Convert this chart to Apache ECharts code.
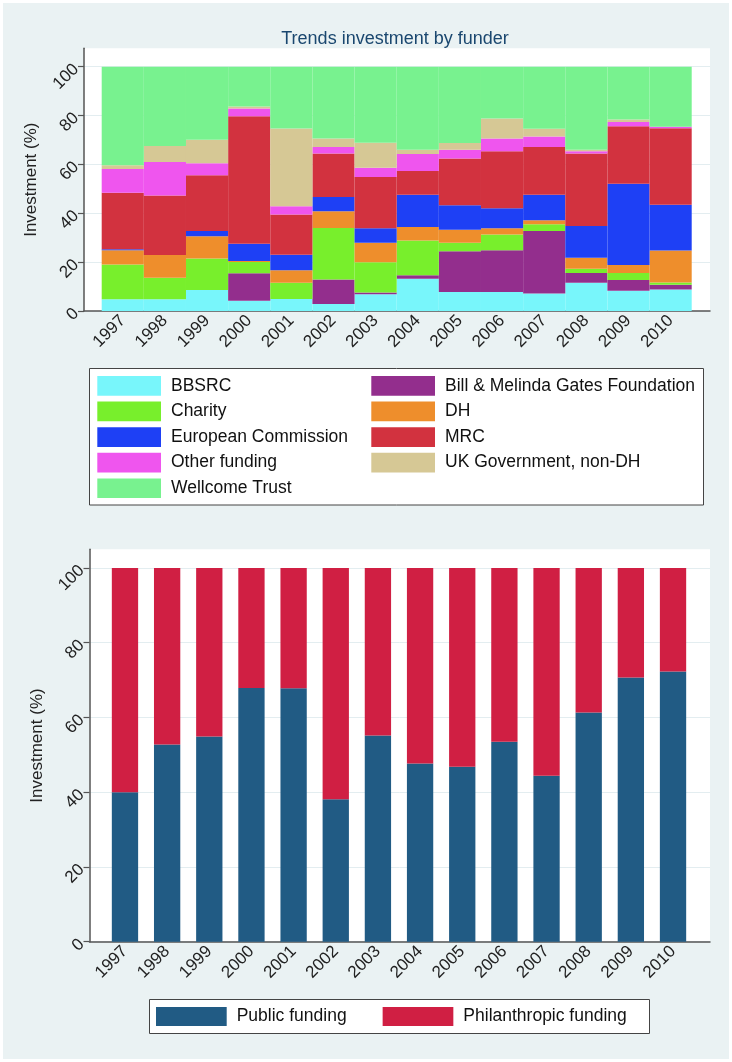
<!DOCTYPE html>
<html>
<head>
<meta charset="utf-8">
<script src="https://cdn.jsdelivr.net/npm/echarts@6/dist/echarts.min.js"></script>
<style>
html,body{margin:0;padding:0;background:#fff;}
#chart{width:732px;height:1062px;}
</style>
</head>
<body>
<div id="chart"></div>
<script>
// ---- data ----
const years = ['1997','1998','1999','2000','2001','2002','2003','2004','2005','2006','2007','2008','2009','2010'];
const yTicks = [0, 20, 40, 60, 80, 100];

const bbsrc    = [4.8, 4.8, 8.6, 4.2, 4.9, 2.9, 6.9, 13.2, 7.8, 7.8, 7.2, 11.6, 8.3, 8.8];
const gates    = [0, 0, 0, 11.2, 0, 10.0, 0.7, 1.4, 16.7, 17.1, 25.5, 4.0, 4.4, 1.9];
const charity  = [14.2, 8.8, 12.9, 4.7, 6.7, 21.1, 12.4, 14.2, 3.4, 6.4, 2.8, 1.7, 2.9, 1.0];
const dh       = [5.9, 9.3, 9.1, 0.4, 5.1, 6.8, 7.9, 5.6, 5.3, 2.6, 1.6, 4.5, 3.2, 13.1];
const ec       = [0.4, 0, 2.1, 7.0, 6.3, 5.9, 6.0, 13.2, 10.1, 8.1, 10.5, 13.0, 33.3, 18.7];
const mrc      = [23.1, 24.4, 22.8, 52.2, 16.5, 17.7, 20.9, 9.7, 19.1, 23.4, 19.5, 29.6, 23.5, 31.3];
const other    = [9.7, 13.7, 5.0, 3.2, 3.4, 2.7, 3.8, 6.9, 3.6, 5.2, 4.3, 1.0, 1.7, 0.6];
const ukgov    = [1.5, 6.5, 9.6, 0.8, 31.8, 3.5, 10.2, 1.8, 2.7, 8.2, 3.2, 0.6, 1.1, 0];
const wellcome = [40.4, 32.5, 29.9, 16.3, 25.3, 29.4, 31.2, 34.0, 31.3, 21.2, 25.4, 34.0, 21.6, 24.6];

const publicFunding        = [40.0, 52.8, 54.9, 67.9, 67.8, 38.1, 55.2, 47.7, 46.8, 53.5, 44.4, 61.3, 70.7, 72.3];
const philanthropicFunding = [60.0, 47.2, 45.1, 32.1, 32.2, 61.9, 44.8, 52.3, 53.2, 46.5, 55.6, 38.7, 29.3, 27.7];

const funders = [
  {name: 'BBSRC', data: bbsrc, color: '#78f6fb'},
  {name: 'Bill & Melinda Gates Foundation', data: gates, color: '#932e8d'},
  {name: 'Charity', data: charity, color: '#78ef2c'},
  {name: 'DH', data: dh, color: '#ee8e2c'},
  {name: 'European Commission', data: ec, color: '#1e40f5'},
  {name: 'MRC', data: mrc, color: '#d2323f'},
  {name: 'Other funding', data: other, color: '#ef55ee'},
  {name: 'UK Government, non-DH', data: ukgov, color: '#d6c895'},
  {name: 'Wellcome Trust', data: wellcome, color: '#78f28f'}
];
const legendCol1 = ['BBSRC', 'Charity', 'European Commission', 'Other funding', 'Wellcome Trust'];
const legendCol2 = ['Bill & Melinda Gates Foundation', 'DH', 'MRC', 'UK Government, non-DH'];

// ---- styles ----
const FONT = '"Liberation Sans", Arial, Helvetica, sans-serif';
const BG = '#eaf2f3';
const AXIS = '#555';
const GRIDLINE = '#e3edf0';
const TXT = '#222';

function bgYAxis(gridIndex, max, gap) {
  return {
    type: 'value', gridIndex: gridIndex, min: 0, max: max, interval: 20,
    name: 'Investment (%)', nameLocation: 'middle', nameGap: gap,
    nameTextStyle: {fontFamily: FONT, fontSize: 17, color: TXT},
    axisLine: {show: true, lineStyle: {color: AXIS, width: 1.5}},
    axisTick: {show: true, length: 6, customValues: yTicks, lineStyle: {color: AXIS, width: 1.2}},
    axisLabel: {customValues: yTicks, rotate: 45, margin: 8, fontFamily: FONT, fontSize: 17, color: TXT},
    splitLine: {show: true, lineStyle: {color: GRIDLINE, width: 1}}
  };
}
function bgXAxis(gridIndex) {
  return {
    type: 'value', gridIndex: gridIndex, min: 0, max: 1,
    axisLine: {show: true, onZero: false, lineStyle: {color: AXIS, width: 1.5}},
    axisTick: {show: false}, axisLabel: {show: false}, splitLine: {show: false}
  };
}
function dataXAxis(gridIndex) {
  return {
    type: 'category', gridIndex: gridIndex, data: years,
    axisLine: {show: false}, axisTick: {show: false},
    axisLabel: {rotate: 45, margin: 7, interval: 0, fontFamily: FONT, fontSize: 17, color: TXT}
  };
}
function dataYAxis(gridIndex, max) {
  return {type: 'value', gridIndex: gridIndex, min: 0, max: max, show: false, splitLine: {show: false}};
}

const series = funders.map(f => ({
  name: f.name, type: 'bar', stack: 'funder', xAxisIndex: 1, yAxisIndex: 1,
  barCategoryGap: '0%', data: f.data, itemStyle: {color: f.color}, silent: true
}));
series.push({
  name: 'Public funding', type: 'bar', stack: 'type', xAxisIndex: 3, yAxisIndex: 3,
  barCategoryGap: '37.6%', data: publicFunding, itemStyle: {color: '#215b84'}, silent: true
});
series.push({
  name: 'Philanthropic funding', type: 'bar', stack: 'type', xAxisIndex: 3, yAxisIndex: 3,
  barCategoryGap: '37.6%', data: philanthropicFunding, itemStyle: {color: '#d01f43'}, silent: true
});

const legendText = {fontFamily: FONT, fontSize: 17.5, color: '#111', padding: [0, 0, 0, 5]};

const option = {
  backgroundColor: '#ffffff',
  animation: false,
  title: {
    text: 'Trends investment by funder', left: 390, top: 25, textAlign: 'center',
    textStyle: {fontFamily: FONT, fontSize: 18, fontWeight: 'normal', color: '#1a476f'}
  },
  graphic: [
    {type: 'rect', z: -10, shape: {x: 3, y: 3, width: 726, height: 1056}, style: {fill: BG}},
    {type: 'rect', z: 1, shape: {x: 89.5, y: 368.5, width: 614, height: 136.5}, style: {fill: '#fff', stroke: '#444', lineWidth: 1}},
    {type: 'rect', z: 1, shape: {x: 149.5, y: 999.5, width: 500, height: 34}, style: {fill: '#fff', stroke: '#444', lineWidth: 1}}
  ],
  legend: [
    {data: legendCol1, orient: 'vertical', left: 97.3, top: 376, padding: 0, itemWidth: 63.7, itemHeight: 19.7, itemGap: 5.9,
     icon: 'rect', selectedMode: false, textStyle: legendText, z: 5},
    {data: legendCol2, orient: 'vertical', left: 371.3, top: 376, padding: 0, itemWidth: 63.7, itemHeight: 19.7, itemGap: 5.9,
     icon: 'rect', selectedMode: false, textStyle: legendText, z: 5},
    {data: ['Public funding', 'Philanthropic funding'], orient: 'horizontal', left: 156, top: 1007, padding: 0,
     itemWidth: 70.7, itemHeight: 19, itemGap: 36, icon: 'rect', selectedMode: false, textStyle: legendText, z: 5}
  ],
  grid: [
    {left: 84, right: 22, top: 48.3, bottom: 751, show: true, backgroundColor: '#fff', borderWidth: 0, containLabel: false},
    {left: 101.7, right: 40.3, top: 48.3, bottom: 751, containLabel: false},
    {left: 89.5, right: 22, top: 549.3, bottom: 120.3, show: true, backgroundColor: '#fff', borderWidth: 0, containLabel: false},
    {left: 103.9, right: 37.9, top: 549.3, bottom: 120.3, containLabel: false}
  ],
  xAxis: [bgXAxis(0), dataXAxis(1), bgXAxis(2), dataXAxis(3)],
  yAxis: [bgYAxis(0, 107.5, 43), dataYAxis(1, 107.5), bgYAxis(2, 105, 44), dataYAxis(3, 105)],
  series: series
};

const chart = echarts.init(document.getElementById('chart'), null, {renderer: 'canvas'});
chart.setOption(option);
</script>
</body>
</html>
